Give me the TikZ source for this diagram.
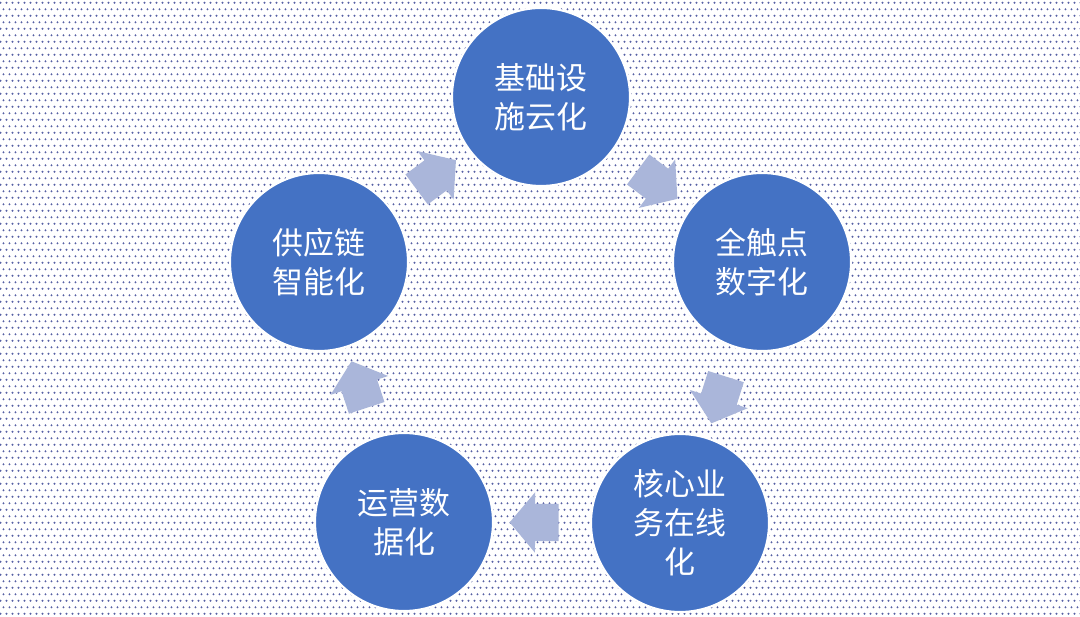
\documentclass[tikz,border=0pt]{standalone}
\usepackage{fontspec}
\newfontfamily\cjk{Noto Sans CJK SC}
\usetikzlibrary{shapes.arrows,patterns.meta}

\definecolor{circblue}{RGB}{68,114,196}
\definecolor{arrowblue}{RGB}{170,182,218}
\definecolor{dotblue}{RGB}{86,96,164}

\tikzdeclarepattern{
  name=bgdots,
  bounding box={(0,0) and (4.6pt,9.2pt)},
  tile size={(4.6pt,9.2pt)},
  code={
    \fill (1.15pt,2.3pt) circle (0.8pt);
    \fill (3.45pt,6.9pt) circle (0.8pt);
  }
}

\tikzset{
  stage/.style={circle,fill=circblue,draw=white,line width=1.5pt,
    minimum size=4.45cm,inner sep=0pt,text=white,align=center,
    font=\cjk\fontsize{22pt}{27.7pt}\selectfont},
  flowarrow/.style={single arrow,fill=arrowblue,draw=none,
    inner xsep=0pt,inner ysep=0.46cm,
    minimum height=1.225cm,
    single arrow head extend=0.29cm,single arrow tip angle=100,
    sloped,allow upside down}
}

\begin{document}
\begin{tikzpicture}
    \useasboundingbox (0,0) rectangle (27,15.425);
    \fill[white] (0,0) rectangle (27,15.425);
    \fill[pattern=bgdots,pattern color=dotblue] (0,0) rectangle (27,15.425);

    \foreach \x\y\n\t in {
        13.525/13.0/infra/{基础设\\施云化},
        19.05/8.875/touch/{全触点\\数字化},
        17.0/2.35/core/{核心业\\务在线\\化},
        10.1/2.375/ops/{运营数\\据化},
        7.975/8.875/supply/{供应链\\智能化}}{
      \node[stage] (\n) at (\x,\y) {\t};
    }

    \foreach \a\b in {supply/infra,infra/touch,touch/core,core/ops,ops/supply}{
      \path (\a) -- node[flowarrow] {} (\b);
    }
  \end{tikzpicture}
\end{document}
